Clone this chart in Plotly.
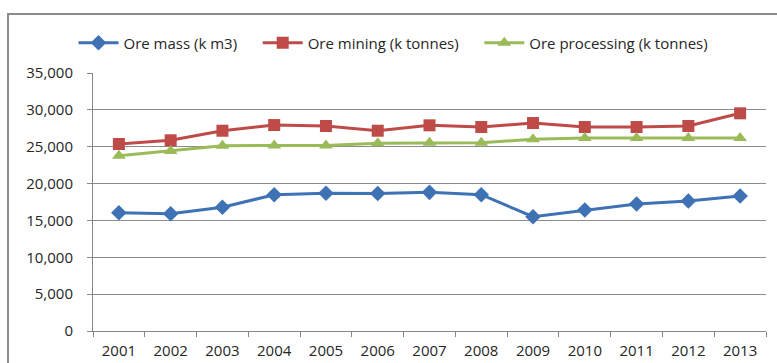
import plotly.graph_objects as go

years = ["2001", "2002", "2003", "2004", "2005", "2006", "2007",
         "2008", "2009", "2010", "2011", "2012", "2013"]
ore_mass = [16050, 15900, 16780, 18490, 18680, 18650, 18810,
            18490, 15500, 16410, 17230, 17630, 18310]
ore_mining = [25370, 25870, 27170, 27940, 27810, 27170, 27900,
              27670, 28210, 27670, 27670, 27810, 29530]
ore_processing = [23780, 24420, 25140, 25160, 25160, 25460, 25540,
                  25540, 26000, 26180, 26180, 26180, 26180]

NB = "\u00a0"
series = [
    ("Ore mass (k m3)" + NB * 4, ore_mass, "#3f72b5", "diamond", 12),
    ("Ore mining (k tonnes)" + NB * 4, ore_mining, "#be4b48", "square", 12),
    ("Ore processing (k tonnes)", ore_processing, "#9bbb59", "triangle-up", 12),
]

fig = go.Figure()
for name, vals, color, sym, size in series:
    fig.add_trace(go.Scatter(
        x=years, y=vals, name=name, mode="lines+markers",
        line=dict(color=color, width=3),
        marker=dict(symbol=sym, size=size, color=color),
    ))

font = dict(family="Open Sans, Liberation Sans, sans-serif", size=15, color="#262626")

fig.update_layout(
    width=777, height=363,
    margin=dict(l=93, r=11, t=73, b=32, autoexpand=False),
    paper_bgcolor="white", plot_bgcolor="white",
    font=font,
    showlegend=True,
    legend=dict(orientation="h", x=-0.029, xanchor="left", y=1.116, yanchor="middle",
                font=font, itemwidth=40, bgcolor="rgba(0,0,0,0)", tracegroupgap=0),
    xaxis=dict(type="category", range=[-0.5, 12.5], tickson="boundaries",
               ticks="outside", ticklen=5, tickcolor="#888888",
               showline=True, linecolor="#888888", linewidth=1,
               showgrid=False, tickfont=font, ticklabelstandoff=6,
               automargin=False, fixedrange=True),
    yaxis=dict(range=[0, 35000], dtick=5000, tickformat=",d",
               ticks="outside", ticklen=5, tickcolor="#888888",
               showline=True, linecolor="#888888", linewidth=1,
               showgrid=True, gridcolor="#8c8c8c", gridwidth=1,
               zeroline=False, tickfont=font, ticklabelstandoff=11,
               automargin=False, fixedrange=True),
    shapes=[dict(type="rect", xref="paper", yref="paper",
                 x0=-0.1263, x1=1.03, y0=-0.25, y1=1.2287,
                 line=dict(color="#8a8a8a", width=2), layer="below")],
)

fig.write_html("out.html")
